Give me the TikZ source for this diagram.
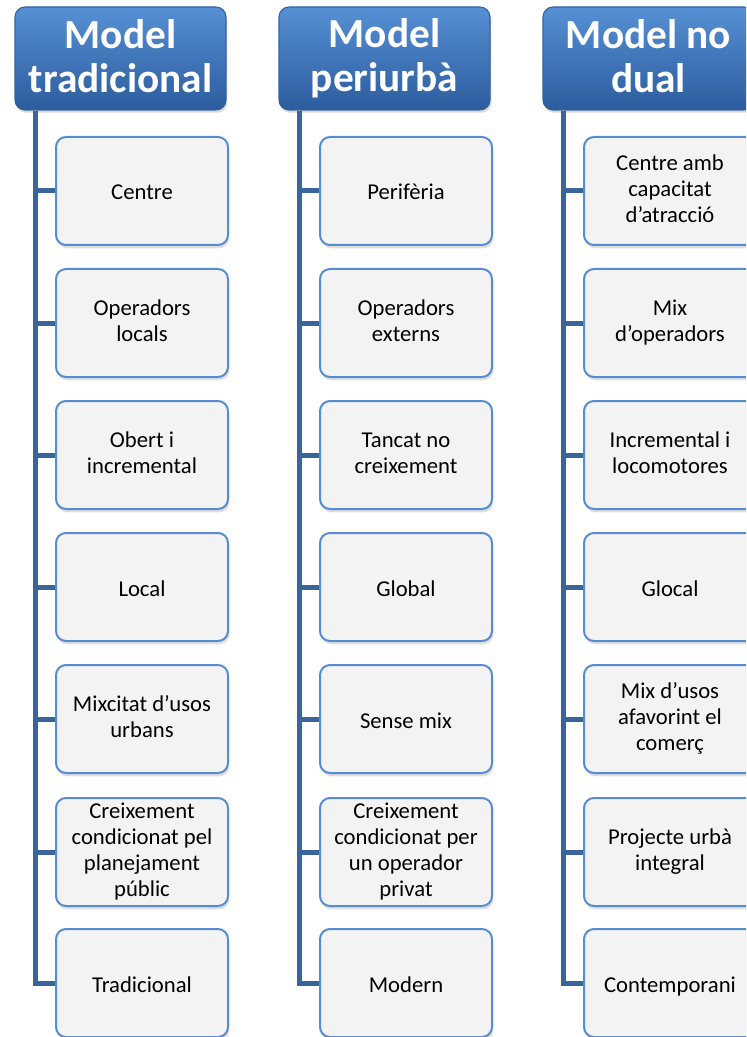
\documentclass[tikz,border=0pt]{standalone}
\usepackage{fontspec}
\setmainfont{Carlito}
\usetikzlibrary{shadows,calc}
\definecolor{hdtop}{RGB}{86,144,212}
\definecolor{hdmid}{RGB}{58,115,186}
\definecolor{hdbot}{RGB}{44,92,158}
\definecolor{hdborder}{RGB}{52,98,162}
\definecolor{connc}{RGB}{58,101,155}
\definecolor{boxborder}{RGB}{88,140,208}
\definecolor{boxfill}{RGB}{243,243,243}
\newcommand\hdstrut{\rule[-3.5pt]{0pt}{33pt}}
\newcommand\bxstrut{\rule[-3pt]{0pt}{19.5pt}}
\newcommand\looselines{\lineskiplimit=-10pt\relax}
\tikzset{
  header/.style={rounded corners=7.5pt, minimum width=158.25pt, minimum height=77.25pt,
    inner sep=0pt, top color=hdtop, middle color=hdmid, bottom color=hdbot, draw=hdborder,
    line width=0.8pt, text=white, align=center,
    font=\fontsize{31}{33}\selectfont\bfseries,
    execute at begin node={\looselines\hdstrut}, execute at end node={\hdstrut},
    drop shadow={shadow xshift=1pt, shadow yshift=-2pt, opacity=0.3}},
  childbox/.style={rounded corners=7.5pt, minimum width=129pt, minimum height=81pt,
    inner sep=1pt, fill=boxfill, draw=boxborder, line width=1.5pt, text=black,
    align=center, font=\fontsize{17}{19.5}\selectfont,
    execute at begin node={\looselines\bxstrut}, execute at end node={\bxstrut},
    drop shadow={shadow xshift=1pt, shadow yshift=-2.5pt, opacity=0.25}},
  connline/.style={draw=connc, line width=3.75pt}
}
\begin{document}
\begin{tikzpicture}[x=0.75pt, y=-0.75pt]
\useasboundingbox (0,0) rectangle (746,1037);
\clip (0,0) rectangle (746,1037);
% headers
\node[header] (h1) at (120.5,58.5) {Model\\tradicional};
\node[header] (h2) at (384.5,58.5) {Model\\periurbà};
\node[header] (h3) at (648.5,58.5) {Model no\\dual};
\coordinate (l1) at ([xshift=15.4pt]h1.south west);
\coordinate (l2) at ([xshift=15.4pt]h2.south west);
\coordinate (l3) at ([xshift=15.4pt]h3.south west);
% column 1
\node[childbox] (a1) at (142,191) {Centre};
\node[childbox] (a2) at (142,323) {Operadors\\locals};
\node[childbox] (a3) at (142,455) {Obert i\\incremental};
\node[childbox] (a4) at (142,587) {Local};
\node[childbox] (a5) at (142,719) {Mixcitat d’usos\\urbans};
\node[childbox] (a6) at (142,852) {Creixement\\condicionat pel\\planejament\\públic};
\node[childbox] (a7) at (142,983) {Tradicional};
% column 2
\node[childbox] (b1) at (406,191) {Perifèria};
\node[childbox] (b2) at (406,323) {Operadors\\externs};
\node[childbox] (b3) at (406,455) {Tancat no\\creixement};
\node[childbox] (b4) at (406,587) {Global};
\node[childbox] (b5) at (406,719) {Sense mix};
\node[childbox] (b6) at (406,852) {Creixement\\condicionat per\\un operador\\privat};
\node[childbox] (b7) at (406,983) {Modern};
% column 3
\node[childbox] (c1) at (670,191) {Centre amb\\capacitat\\d’atracció};
\node[childbox] (c2) at (670,323) {Mix\\d’operadors};
\node[childbox] (c3) at (670,455) {Incremental i\\locomotores};
\node[childbox] (c4) at (670,587) {Glocal};
\node[childbox] (c5) at (670,719) {Mix d’usos\\afavorint el\\comerç};
\node[childbox] (c6) at (670,852) {Projecte urbà\\integral};
\node[childbox] (c7) at (670,983) {Contemporani};
% connectors
\foreach \col/\ln in {a/l1,b/l2,c/l3}{
  \draw[connline] (\ln) |- (\col7.west);
  \foreach \r in {1,...,6}{
    \draw[connline] (\col\r.west) -- (\col\r.west -| \ln);
  }
}
\end{tikzpicture}
\end{document}
